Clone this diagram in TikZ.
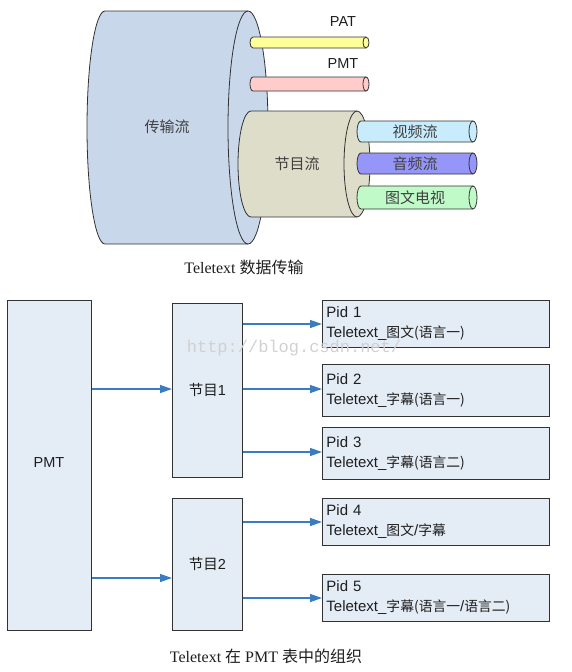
\documentclass[tikz,border=0pt]{standalone}
\usepackage{fontspec}
\setmainfont{Liberation Sans}
\newfontfamily\cjkfont{Noto Sans CJK SC}
\newfontfamily\capfont{Liberation Serif}
\newfontfamily\wmfont{Liberation Mono}
\usetikzlibrary{arrows.meta}
\newcommand{\zh}[1]{{\cjkfont #1}}
\newcommand{\zhs}[1]{{\cjkfont\fontsize{13.8}{20}\selectfont #1}}
\definecolor{tsblue}{RGB}{200,216,234}
\definecolor{pgkhaki}{RGB}{221,221,202}
\definecolor{patyel}{RGB}{255,255,153}
\definecolor{pmtpink}{RGB}{255,204,204}
\definecolor{vidblue}{RGB}{200,236,252}
\definecolor{audblue}{RGB}{150,150,248}
\definecolor{ttxgreen}{RGB}{192,250,200}
\definecolor{boxfill}{RGB}{228,236,246}
\definecolor{arrowblue}{RGB}{58,124,192}
\definecolor{edgegray}{RGB}{50,50,50}
\definecolor{txt}{RGB}{30,30,30}
% cylinder: xL, xR, cy, ry, rxL, rxR, fill
\newcommand{\cylshape}[7]{%
  \filldraw[fill=#7, draw=edgegray, line width=0.8pt]
    ({#1},{#3-#4}) -- ({#2},{#3-#4})
    arc[start angle=-90, end angle=90, x radius=#6, y radius=#4]
    -- ({#1},{#3+#4})
    arc[start angle=90, end angle=270, x radius=#5, y radius=#4] -- cycle;
  \draw[edgegray, line width=0.8pt] ({#2},{#3-#4})
    arc[start angle=-90, end angle=-270, x radius=#6, y radius=#4];
}
\tikzset{
  lbl/.style={font=\fontsize{14.5}{17}\selectfont, text=txt, inner sep=0pt},
  zlbl/.style={font=\cjkfont\fontsize{15}{17}\selectfont, text=txt!85, inner sep=0pt},
  captext/.style={font=\capfont\fontsize{16}{18}\selectfont, text=txt, inner sep=0pt},
  blk/.style={draw=edgegray, fill=boxfill, line width=0.9pt, anchor=north west,
    inner sep=0pt, font=\fontsize{14.5}{17}\selectfont, text=txt},
  pidbox/.style={draw=edgegray, fill=boxfill, line width=0.9pt, anchor=north west,
    inner xsep=4pt, inner ysep=0pt, minimum width=227pt, text width=219pt, align=left,
    font=\fontsize{15}{20}\selectfont, text=txt},
  arr/.style={draw=arrowblue, line width=1.3pt, -{Triangle[length=12pt, width=8pt]}}
}
\begin{document}
\begin{tikzpicture}[x=1pt, y=-1pt]
\useasboundingbox (0,0) rectangle (572,672);
% ---------- top figure ----------
\cylshape{105}{248}{127.5}{116.5}{18}{20}{tsblue}
\cylshape{253}{366}{42.5}{5.5}{3}{3}{patyel}
\cylshape{253}{366}{84}{7}{3}{3}{pmtpink}
\cylshape{251}{357}{164}{53}{13}{13}{pgkhaki}
\cylshape{361}{473}{131.5}{10.5}{4}{4}{vidblue}
\cylshape{361}{473}{163.5}{10.5}{4}{4}{audblue}
\cylshape{361}{473}{197.5}{11.5}{4}{4}{ttxgreen}
\node[lbl] (patl) at (343,22) {PAT};
\node[lbl] (pmtl) at (343,64) {PMT};
\node[zlbl] (tsl) at (167,127) {传输流};
\node[zlbl] (pgl) at (297,164) {节目流};
\node[zlbl] (vdl) at (415,131.5) {视频流};
\node[zlbl] (adl) at (415,163.5) {音频流};
\node[zlbl] (ttl) at (415,197.5) {图文电视};
\node[captext] (cap1) at (244,267) {Teletext \zh{数据传输}};
% ---------- bottom figure ----------
\node[blk, minimum width=84pt, minimum height=330pt] (pmt) at (7,300) {};
\node[lbl] (pmttext) at (49,463) {PMT};
\node[blk, minimum width=70pt, minimum height=174pt] (j1) at (172,303) {\zh{节目}1};
\node[blk, minimum width=70pt, minimum height=132pt] (j2) at (172,498) {\zh{节目}2};
\node[pidbox, minimum height=47pt] (p1) at (322,300) {Pid 1\\Teletext\_\zhs{图文(语言一)}};
\node[pidbox, minimum height=52pt] (p2) at (322,364) {Pid 2\\Teletext\_\zhs{字幕(语言一)}};
\node[pidbox, minimum height=52pt] (p3) at (322,427) {Pid 3\\Teletext\_\zhs{字幕(语言二)}};
\node[pidbox, minimum height=47pt] (p4) at (322,498) {Pid 4\\Teletext\_\zhs{图文}/\zhs{字幕}};
\node[pidbox, minimum height=47pt] (p5) at (322,574) {Pid 5\\Teletext\_\zhs{字幕(语言一}/\zhs{语言二)}};
\coordinate (y1) at (0,389);
\coordinate (y2) at (0,578);
\coordinate (q1) at (0,324);
\coordinate (q2) at (0,389);
\coordinate (q3) at (0,452);
\coordinate (q4) at (0,522);
\coordinate (q5) at (0,598);
\draw[arr] (pmt.east |- y1) -- (j1.west |- y1);
\draw[arr] (pmt.east |- y2) -- (j2.west |- y2);
\draw[arr] (j1.east |- q1) -- (p1.west |- q1);
\draw[arr] (j1.east |- q2) -- (p2.west |- q2);
\draw[arr] (j1.east |- q3) -- (p3.west |- q3);
\draw[arr] (j2.east |- q4) -- (p4.west |- q4);
\draw[arr] (j2.east |- q5) -- (p5.west |- q5);
\node[captext] (cap2) at (266,656) {Teletext \zh{在} PMT \zh{表中的组织}};
\node[font=\wmfont\fontsize{17}{19}\selectfont, text=black!18, inner sep=0pt] (wm) at (294,348) {http://blog.csdn.net/};
\end{tikzpicture}
\end{document}
